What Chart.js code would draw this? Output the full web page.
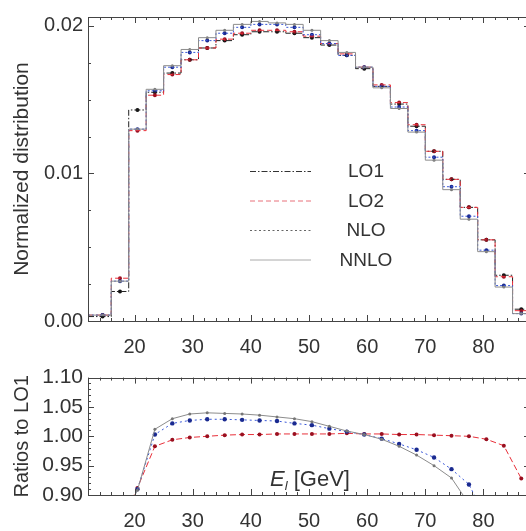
<!DOCTYPE html>
<html>
<head>
<meta charset="utf-8">
<script src="https://cdn.jsdelivr.net/npm/chart.js@4.4.0/dist/chart.umd.min.js"></script>
<style>
  html, body { margin: 0; padding: 0; background: #fff; overflow: hidden; width: 526px; height: 531px; }
  #topChart { position: absolute; left: 0; top: 0; }
  #ratioChart { position: absolute; left: 0; top: 360px; }
</style>
</head>
<body>
<canvas id="topChart" width="534" height="360"></canvas>
<canvas id="ratioChart" width="534" height="171"></canvas>
<script>
// Lepton energy distribution, E_l bins of 3 GeV
// ------------------------------
var seriesNames = ["LO1", "LO2", "NLO", "NNLO"];

var binCenters = [14.5, 17.5, 20.5, 23.5, 26.5, 29.5, 32.5, 35.5, 38.5, 41.5, 44.5, 47.5, 50.5,
                  53.5, 56.5, 59.5, 62.5, 65.5, 68.5, 71.5, 74.5, 77.5, 80.5, 83.5, 86.5];

var lo1  = [0.0003, 0.0020, 0.0143, 0.0155, 0.0168, 0.0177, 0.0185, 0.0190, 0.0194, 0.0196, 0.0196, 0.0195, 0.0192,
            0.0187, 0.0180, 0.0171, 0.0159, 0.0147, 0.0132, 0.0115, 0.0096, 0.0077, 0.0055, 0.0031, 0.0008];
var lo2  = [0.0004, 0.0029, 0.0129, 0.0153, 0.0167, 0.0177, 0.0185, 0.0191, 0.0195, 0.0197, 0.0197, 0.0196, 0.0193,
            0.0188, 0.0181, 0.0172, 0.0160, 0.0148, 0.0133, 0.0115, 0.0096, 0.0077, 0.0055, 0.0030, 0.0007];
var nlo  = [0.0004, 0.0027, 0.0130, 0.0156, 0.0172, 0.0182, 0.0190, 0.0195, 0.0199, 0.0201, 0.0201, 0.0199, 0.0194,
            0.0188, 0.0180, 0.0172, 0.0159, 0.0145, 0.0129, 0.0111, 0.0091, 0.0071, 0.0048, 0.0024, 0.0005];
var nnlo = [0.0004, 0.0027, 0.0130, 0.0157, 0.0173, 0.0184, 0.0192, 0.0197, 0.0201, 0.0203, 0.0202, 0.0201, 0.0197,
            0.0190, 0.0182, 0.0172, 0.0158, 0.0144, 0.0128, 0.0109, 0.0089, 0.0069, 0.0047, 0.0023, 0.0005];

// ratios to LO1
var ratioCenters = [17.5, 20.5, 23.5, 26.5, 29.5, 32.5, 35.5, 38.5, 41.5, 44.5, 47.5, 50.5,
                    53.5, 56.5, 59.5, 62.5, 65.5, 68.5, 71.5, 74.5, 77.5, 80.5, 83.5, 86.5];
var ratioLo2  = [0.85, 0.912, 0.983, 0.994, 0.998, 1.000, 1.002, 1.003, 1.003, 1.004, 1.004, 1.004,
                 1.004, 1.005, 1.004, 1.004, 1.003, 1.003, 1.002, 1.001, 1.000, 0.995, 0.984, 0.928];
var ratioNlo  = [0.85, 0.910, 1.003, 1.022, 1.027, 1.029, 1.029, 1.028, 1.027, 1.026, 1.022, 1.019,
                 1.013, 1.008, 1.003, 0.996, 0.987, 0.977, 0.964, 0.944, 0.918, 0.86, null, null];
var ratioNnlo = [0.85, 0.908, 1.012, 1.030, 1.038, 1.040, 1.039, 1.038, 1.036, 1.033, 1.030, 1.025,
                 1.017, 1.009, 1.003, 0.995, 0.983, 0.968, 0.950, 0.929, 0.885, null, null, null];

var xTicks = [20, 30, 40, 50, 60, 70, 80];
var topYTicks = [0, 0.01, 0.02];
var ratioYTicks = [0.90, 0.95, 1.00, 1.05, 1.10];

var xMin = 12, xMax = 88, binHalf = 1.5;
var FONT = "'Liberation Sans', Arial, sans-serif";
var TXT = "#333";

var colors = { lo1: "#222222", lo2: "#e8303a", nlo: "#3a58d8", nnlo: "#8c8c8c" };
var marks  = { lo1: "#111111", lo2: "#9a1020", nlo: "#1a2a90", nnlo: "#777777" };

// histogram outline: a point at each left bin edge, plus the closing edge
function stepPoints(vals) {
    var pts = binCenters.map(function (c, i) {
        return { x: i === 0 ? xMin : c - binHalf, y: vals[i] };
    });
    pts.push({ x: binCenters[binCenters.length - 1] + binHalf, y: vals[vals.length - 1] });
    return pts;
}
function centerPoints(xs, vals) {
    return xs.map(function (c, i) { return { x: c, y: vals[i] }; });
}

// frame with inward ticks on every side
var framePlugin = {
    id: "frame",
    afterDatasetsDraw: function (chart, args, o) {
        var ctx = chart.ctx, a = chart.chartArea, x = chart.scales.x, y = chart.scales.y;
        ctx.save();
        ctx.strokeStyle = "#444";
        ctx.lineWidth = 1;
        ctx.strokeRect(Math.round(a.left) + 0.5, Math.round(a.top) + 0.5,
                       Math.round(a.right - a.left), Math.round(a.bottom - a.top));
        ctx.beginPath();
        for (var k = 0; xMin + 2 * k <= xMax; k++) {
            var v = xMin + 2 * k;
            var len = (v % 10 === 0) ? 6 : 3;
            var px = Math.round(x.getPixelForValue(v)) + 0.5;
            ctx.moveTo(px, a.bottom); ctx.lineTo(px, a.bottom - len);
            ctx.moveTo(px, a.top); ctx.lineTo(px, a.top + len);
        }
        for (var j = 0; j <= o.yCount; j++) {
            var yv = o.yStart + j * o.yStep;
            var l2 = (j % o.yMajorEvery === 0) ? 6 : 3;
            var py = Math.round(y.getPixelForValue(yv)) + 0.5;
            ctx.moveTo(a.left, py); ctx.lineTo(a.left + l2, py);
            ctx.moveTo(a.right, py); ctx.lineTo(a.right - l2, py);
        }
        ctx.stroke();
        ctx.restore();
    }
};

// legend drawn inside the upper panel
var legendPlugin = {
    id: "innerLegend",
    afterDatasetsDraw: function (chart) {
        var ctx = chart.ctx;
        var styles = [
            { c: "#333", d: [6, 2, 1.5, 2] },
            { c: "#e8707a", d: [5, 3] },
            { c: "#666", d: [2, 2.5] },
            { c: "#aaa", d: [] }
        ];
        ctx.save();
        seriesNames.forEach(function (name, i) {
            var yy = 171 + i * 29.5;
            ctx.beginPath();
            ctx.setLineDash(styles[i].d);
            ctx.strokeStyle = styles[i].c;
            ctx.lineWidth = 1;
            ctx.moveTo(250, yy + 0.5); ctx.lineTo(311, yy + 0.5);
            ctx.stroke();
            ctx.setLineDash([]);
            ctx.fillStyle = TXT;
            ctx.font = "19px " + FONT;
            ctx.textAlign = "center";
            ctx.textBaseline = "middle";
            ctx.fillText(name, 366, yy + 1);
        });
        ctx.restore();
    }
};

// E_l [GeV] inside the ratio panel
var elPlugin = {
    id: "elLabel",
    afterDatasetsDraw: function (chart) {
        var ctx = chart.ctx, x0 = 270, yb = 126;
        ctx.save();
        ctx.fillStyle = TXT;
        ctx.textBaseline = "alphabetic";
        ctx.font = "italic 22px " + FONT;
        ctx.fillText("E", x0, yb);
        var w = ctx.measureText("E").width;
        ctx.font = "italic 13px " + FONT;
        ctx.fillText("l", x0 + w, yb + 4);
        var w2 = ctx.measureText("l").width;
        ctx.font = "22px " + FONT;
        ctx.fillText(" [GeV]", x0 + w + w2, yb);
        ctx.restore();
    }
};

function histDataset(vals, color, dash) {
    return { type: "line", data: stepPoints(vals), stepped: true, borderColor: color,
             borderWidth: 1, borderDash: dash, pointRadius: 0, fill: false };
}
function markDataset(xs, vals, color, r) {
    return { type: "line", data: centerPoints(xs, vals), showLine: false, pointRadius: r,
             pointBackgroundColor: color, pointBorderColor: color, pointBorderWidth: 0 };
}
function ratioDataset(vals, color, dash, mark, r) {
    return { type: "line", data: centerPoints(ratioCenters, vals), borderColor: color, borderWidth: 1,
             borderDash: dash, pointRadius: r, pointBackgroundColor: mark, pointBorderColor: mark,
             pointBorderWidth: 0, fill: false, tension: 0 };
}

function xScale() {
    return {
        type: "linear", min: xMin, max: xMax,
        grid: { display: false, drawTicks: false }, border: { display: false },
        afterBuildTicks: function (s) { s.ticks = xTicks.map(function (v) { return { value: v }; }); },
        ticks: { color: TXT, font: { size: 20, family: FONT }, padding: 14, maxRotation: 0 }
    };
}

Chart.defaults.animation = false;

new Chart(document.getElementById("topChart"), {
    type: "line",
    data: {
        datasets: [
            histDataset(nnlo, colors.nnlo, []),
            histDataset(nlo, colors.nlo, [2, 2]),
            histDataset(lo2, colors.lo2, [5, 3]),
            histDataset(lo1, colors.lo1, [6, 2, 1.5, 2]),
            markDataset(binCenters, nnlo, marks.nnlo, 1.5),
            markDataset(binCenters, nlo, marks.nlo, 2),
            markDataset(binCenters, lo2, marks.lo2, 2),
            markDataset(binCenters, lo1, marks.lo1, 2)
        ]
    },
    options: {
        responsive: false,
        layout: { padding: { top: 13, right: 1, bottom: 0, left: 0 } },
        plugins: { legend: { display: false }, tooltip: { enabled: false },
                   frame: { yStart: 0, yStep: 0.0025, yCount: 8, yMajorEvery: 4 } },
        scales: {
            x: Object.assign(xScale(), { afterFit: function (s) { s.height = 39; } }),
            y: {
                type: "linear", min: 0, max: 0.0206,
                grid: { display: false, drawTicks: false }, border: { display: false },
                afterFit: function (s) { s.width = 88; },
                afterBuildTicks: function (s) { s.ticks = topYTicks.map(function (v) { return { value: v }; }); },
                ticks: { color: TXT, font: { size: 20, family: FONT }, padding: 5,
                         callback: function (v) { return v.toFixed(2); } },
                title: { display: true, text: "Normalized distribution", color: TXT,
                         font: { size: 21, family: FONT }, padding: { top: 10, bottom: 0 } }
            }
        }
    },
    plugins: [framePlugin, legendPlugin]
});

new Chart(document.getElementById("ratioChart"), {
    type: "line",
    data: {
        datasets: [
            ratioDataset(ratioNnlo, "#8c8c8c", [], "#777", 1.5),
            ratioDataset(ratioNlo, "#3a58d8", [2, 3], "#1a2a90", 2.2),
            ratioDataset(ratioLo2, "#e8303a", [6, 3], "#9a1020", 2)
        ]
    },
    options: {
        responsive: false,
        layout: { padding: { top: 6, right: 1, bottom: 0, left: 0 } },
        plugins: { legend: { display: false }, tooltip: { enabled: false },
                   frame: { yStart: 0.90, yStep: 0.01, yCount: 20, yMajorEvery: 5 } },
        scales: {
            x: Object.assign(xScale(), { afterFit: function (s) { s.height = 36; } }),
            y: {
                type: "linear", min: 0.90, max: 1.10,
                grid: { display: false, drawTicks: false }, border: { display: false },
                afterFit: function (s) { s.width = 88; },
                afterBuildTicks: function (s) { s.ticks = ratioYTicks.map(function (v) { return { value: v }; }); },
                ticks: { color: TXT, font: { size: 21, family: FONT }, padding: 5,
                         callback: function (v) { return v.toFixed(2); } },
                title: { display: true, text: "Ratios to LO1", color: TXT,
                         font: { size: 20, family: FONT }, padding: { top: 10, bottom: 0 } }
            }
        }
    },
    plugins: [framePlugin, elPlugin]
});
</script>
</body>
</html>
